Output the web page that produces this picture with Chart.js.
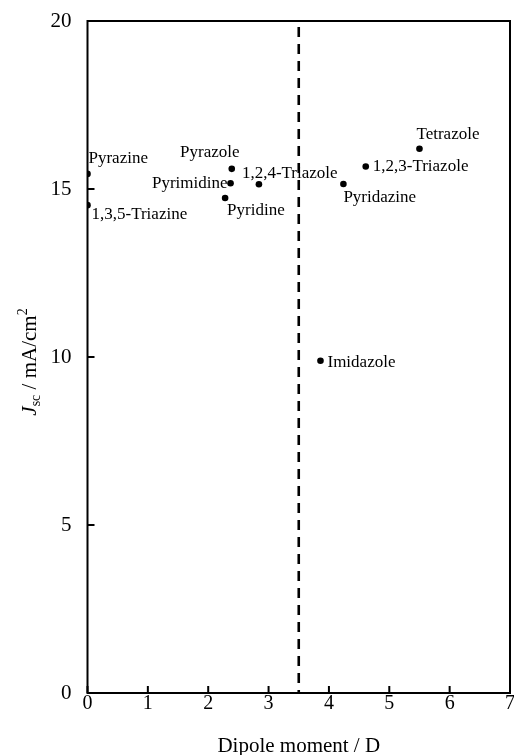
<!DOCTYPE html>
<html><head><meta charset="utf-8">
<script src="https://cdn.jsdelivr.net/npm/chart.js@4/dist/chart.umd.min.js"></script>
<style>html,body{margin:0;padding:0;background:#fff}</style>
</head><body>
<canvas id="c" width="514" height="755" style="display:block;width:514px;height:755px"></canvas>
<script>
const compounds = ['Pyrazine','1,3,5-Triazine','Pyrazole','Pyrimidine','Pyridine','1,2,4-Triazole','Tetrazole','1,2,3-Triazole','Pyridazine','Imidazole'];
const dipole = [0.00, 0.00, 2.39, 2.37, 2.28, 2.84, 5.50, 4.61, 4.24, 3.86];
const jsc    = [15.45, 14.52, 15.60, 15.17, 14.73, 15.14, 16.20, 15.67, 15.15, 9.89];
const xTickValues = [0,1,2,3,4,5,6,7];
const yTickValues = [0,5,10,15,20];
const thresholdDipole = 3.5;
const xTitle = 'Dipole moment / D';

// label placement (pixel offsets from each point, align)
const labelOffsets = [
  {dx:1, dy:-15, a:'left'},
  {dx:4, dy:9, a:'left'},
  {dx:-22, dy:-16, a:'center'},
  {dx:-3, dy:0, a:'right'},
  {dx:2, dy:12, a:'left'},
  {dx:-17, dy:-11, a:'left'},
  {dx:-3, dy:-14, a:'left'},
  {dx:7, dy:0, a:'left'},
  {dx:0, dy:14, a:'left'},
  {dx:7, dy:2, a:'left'}
];

const SERIF = '"Liberation Serif", "DejaVu Serif", serif';

const deco = {
  id: 'deco',
  afterDatasetsDraw(chart) {
    const ctx = chart.ctx, a = chart.chartArea, xs = chart.scales.x, ys = chart.scales.y;
    ctx.save();
    ctx.strokeStyle = '#000';
    ctx.lineWidth = 2;
    ctx.strokeRect(a.left, a.top, a.right - a.left, a.bottom - a.top);
    // inward ticks
    ctx.beginPath();
    xTickValues.forEach(v => { const x = xs.getPixelForValue(v); ctx.moveTo(x, a.bottom); ctx.lineTo(x, a.bottom - 7); });
    yTickValues.forEach(v => { const y = ys.getPixelForValue(v); ctx.moveTo(a.left, y); ctx.lineTo(a.left + 7, y); });
    ctx.stroke();
    // dashed threshold
    const tx = xs.getPixelForValue(thresholdDipole);
    ctx.lineWidth = 2.6;
    ctx.setLineDash([10, 7]);
    ctx.lineDashOffset = -6;
    ctx.beginPath(); ctx.moveTo(tx, a.top); ctx.lineTo(tx, a.bottom); ctx.stroke();
    ctx.setLineDash([]);
    // point labels
    ctx.fillStyle = '#000';
    ctx.font = '17px ' + SERIF;
    ctx.textBaseline = 'middle';
    compounds.forEach((name, i) => {
      const px = xs.getPixelForValue(dipole[i]), py = ys.getPixelForValue(jsc[i]);
      const o = labelOffsets[i];
      ctx.textAlign = o.a;
      ctx.fillText(name, px + o.dx, py + o.dy);
    });
    // x title
    ctx.textAlign = 'center';
    ctx.textBaseline = 'alphabetic';
    ctx.font = '21px ' + SERIF;
    ctx.fillText(xTitle, (a.left + a.right) / 2, 752);
    // y title (rotated)
    ctx.translate(36, (a.top + a.bottom) / 2 + 5);
    ctx.rotate(-Math.PI / 2);
    const parts = [
      {t:'J', f:'italic 21px ' + SERIF, dy:0},
      {t:'sc', f:'14px ' + SERIF, dy:4},
      {t:' / mA/cm', f:'21px ' + SERIF, dy:0},
      {t:'2', f:'14px ' + SERIF, dy:-9}
    ];
    let total = 0;
    parts.forEach(p => { ctx.font = p.f; p.w = ctx.measureText(p.t).width; total += p.w; });
    let cx = -total / 2;
    ctx.textAlign = 'left';
    parts.forEach(p => { ctx.font = p.f; ctx.fillText(p.t, cx, p.dy); cx += p.w; });
    ctx.restore();
  }
};

new Chart(document.getElementById('c'), {
  type: 'scatter',
  data: {
    datasets: [{
      data: dipole.map((d, i) => ({x: d, y: jsc[i]})),
      backgroundColor: '#000',
      borderWidth: 0,
      pointRadius: 3.3,
      pointHoverRadius: 3.3
    }]
  },
  options: {
    responsive: false,
    animation: false,
    devicePixelRatio: 1,
    layout: { padding: { top: 21, right: 4, left: 0, bottom: 0 } },
    plugins: { legend: { display: false }, tooltip: { enabled: false } },
    events: [],
    scales: {
      x: {
        type: 'linear', min: 0, max: 7,
        afterBuildTicks: s => { s.ticks = xTickValues.map(v => ({value: v})); },
        ticks: { color: '#000', font: { family: SERIF, size: 20 }, padding: -1, maxRotation: 0 },
        grid: { display: false, drawTicks: false },
        border: { display: false },
        afterFit: s => { s.height = 62; s.paddingLeft = 0; s.paddingRight = 0; }
      },
      y: {
        type: 'linear', min: 0, max: 20,
        afterBuildTicks: s => { s.ticks = yTickValues.map(v => ({value: v})); },
        ticks: { color: '#000', font: { family: SERIF, size: 21 }, padding: 16 },
        grid: { display: false, drawTicks: false },
        border: { display: false },
        afterFit: s => { s.width = 87.5; s.paddingTop = 0; s.paddingBottom = 0; }
      }
    }
  },
  plugins: [deco]
});
</script>
</body></html>
